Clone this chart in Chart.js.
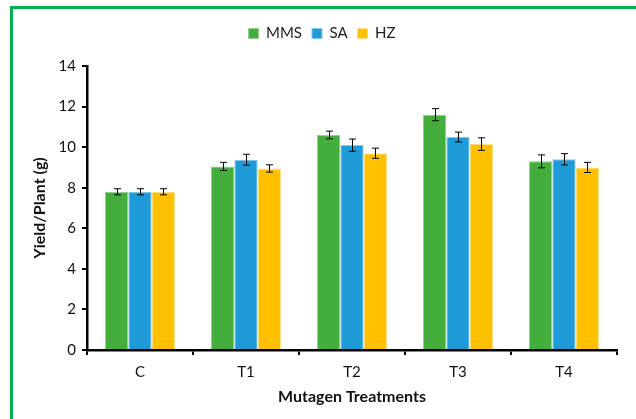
<!DOCTYPE html>
<html>
<head>
<meta charset="utf-8">
<script src="https://cdn.jsdelivr.net/npm/chart.js@4.4.1/dist/chart.umd.min.js"></script>
<style>
  html, body { margin: 0; padding: 0; background: #fff; overflow: hidden; }
  #wrap { position: relative; width: 636px; height: 419px; }
  #frame { position: absolute; left: 10px; top: 6px; width: 700px; height: 500px; border: 3px solid #00b050; box-sizing: border-box; }
  canvas { position: absolute; left: 0; top: 0; }
</style>
</head>
<body>
<div id="wrap">
  <div id="frame"></div>
  <canvas id="yield-chart" width="636" height="419"></canvas>
</div>
<script>
const treatments = ["C", "T1", "T2", "T3", "T4"];
const mms = [7.8, 9.05, 10.6, 11.6, 9.3];
const sa = [7.8, 9.38, 10.1, 10.5, 9.4];
const hz = [7.8, 8.95, 9.7, 10.15, 9.0];
const mmsErr = [0.15, 0.2, 0.19, 0.3, 0.32];
const saErr = [0.15, 0.27, 0.3, 0.24, 0.28];
const hzErr = [0.15, 0.18, 0.25, 0.31, 0.25];
const yTicks = [0, 2, 4, 6, 8, 10, 12, 14];

const FONT = "Lato, 'Open Sans', sans-serif";

// draws the error bars from the errors stored on each dataset
const errorBars = {
    id: 'errorBars',
    afterDatasetsDraw(chart) {
        const ctx = chart.ctx;
        const y = chart.scales.y;
        ctx.save();
        ctx.strokeStyle = '#000';
        ctx.lineWidth = 1;
        chart.data.datasets.forEach(function(ds, i) {
            const meta = chart.getDatasetMeta(i);
            meta.data.forEach(function(bar, j) {
                const v = ds.data[j], e = ds.errors[j];
                const top = y.getPixelForValue(v + e);
                const bot = y.getPixelForValue(v - e);
                const x = Math.round(bar.x) + 0.5;
                ctx.beginPath();
                ctx.moveTo(x, top); ctx.lineTo(x, bot);
                ctx.moveTo(x - 3.5, top); ctx.lineTo(x + 3.5, top);
                ctx.moveTo(x - 3.5, bot); ctx.lineTo(x + 3.5, bot);
                ctx.stroke();
            });
        });
        ctx.restore();
    }
};

// fixed legend height so the plot area starts where the reference does
const legendHeight = {
    id: 'legendHeight',
    beforeInit(chart) {
        const fit = chart.legend.fit;
        chart.legend.fit = function() {
            fit.call(this);
            this.height = 50;
        };
    }
};

new Chart(document.getElementById('yield-chart'), {
    type: 'bar',
    data: {
        labels: treatments,
        datasets: [
            { label: 'MMS', data: mms, errors: mmsErr, backgroundColor: '#43ae3b', borderColor: '#8fd18a', borderWidth: 1 },
            { label: 'SA', data: sa, errors: saErr, backgroundColor: '#1e9bd7', borderColor: '#86c9ea', borderWidth: 1 },
            { label: 'HZ', data: hz, errors: hzErr, backgroundColor: '#ffc000', borderColor: '#ffe08a', borderWidth: 1 }
        ]
    },
    plugins: [errorBars, legendHeight],
    options: {
        responsive: false,
        animation: false,
        devicePixelRatio: 1,
        layout: { padding: { left: 27, right: 19, top: 16, bottom: 10 } },
        datasets: { bar: { categoryPercentage: 0.66, barPercentage: 1 } },
        plugins: {
            legend: {
                position: 'top',
                labels: {
                    boxWidth: 10,
                    boxHeight: 10,
                    padding: 10,
                    color: '#222',
                    font: { family: FONT, size: 15 }
                }
            },
            tooltip: { enabled: false }
        },
        scales: {
            x: {
                afterFit(scale) { scale.height = 59; },
                border: { color: '#000', width: 2.5 },
                grid: { drawOnChartArea: false, color: '#000', lineWidth: 2, tickLength: 5 },
                ticks: { color: '#111', padding: 8, font: { family: FONT, size: 15 } },
                title: { display: true, text: 'Mutagen Treatments', color: '#111', padding: 3, font: { family: FONT, size: 16, weight: 'bold' } }
            },
            y: {
                min: 0,
                max: 14,
                afterFit(scale) { scale.width = 60; },
                afterBuildTicks(scale) { scale.ticks = yTicks.map(function(v) { return { value: v }; }); },
                border: { color: '#000', width: 2.5 },
                grid: { drawOnChartArea: false, color: '#000', lineWidth: 2, tickLength: 5 },
                ticks: { color: '#111', padding: 6, font: { family: FONT, size: 15 } },
                title: { display: true, text: 'Yield/Plant (g)', color: '#111', padding: 3, font: { family: FONT, size: 16, weight: 'bold' } }
            }
        }
    }
});
</script>
</body>
</html>
